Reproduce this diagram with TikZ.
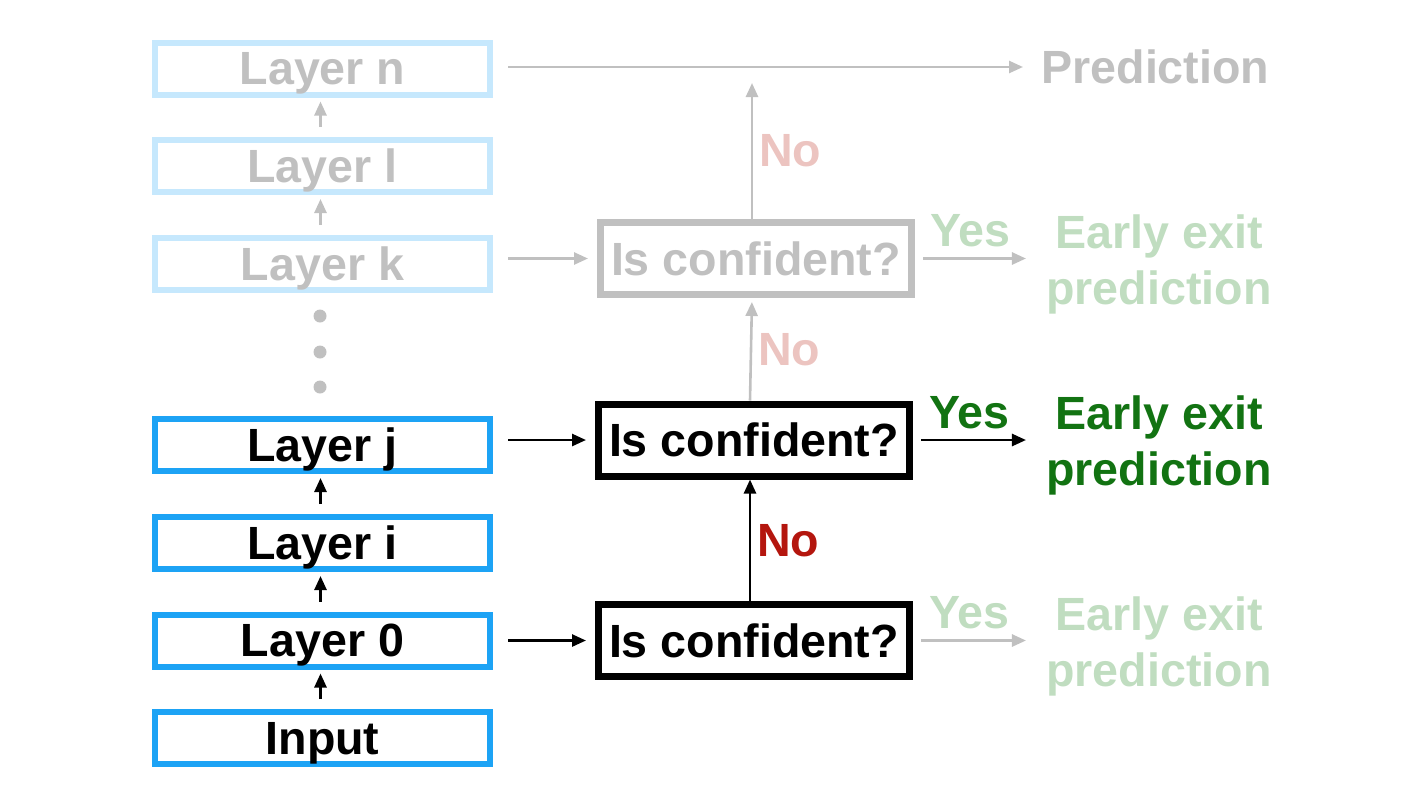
\documentclass[tikz,border=0pt]{standalone}
\usepackage{fontspec}
\setmainfont{Liberation Sans}
\usetikzlibrary{arrows.meta}
\definecolor{layerblue}{RGB}{29,163,245}
\definecolor{fadeblue}{RGB}{198,232,253}
\definecolor{fadegray}{RGB}{192,192,192}
\definecolor{exitgreen}{RGB}{18,115,18}
\definecolor{fadegreen}{RGB}{192,221,192}
\definecolor{nored}{RGB}{180,22,14}
\definecolor{fadered}{RGB}{236,196,192}
\begin{document}
\begin{tikzpicture}[x=0.5pt,y=-0.5pt,
	font=\fontsize{23.3}{28}\selectfont\bfseries,
	layer/.style={draw=layerblue,line width=3pt,minimum width=167.5pt,minimum height=26pt,inner sep=0pt,text depth=0pt},
	fadelayer/.style={layer,draw=fadeblue,text=fadegray},
	check/.style={draw,line width=3.5pt,minimum width=155.5pt,minimum height=36pt,inner sep=0pt},
	fadecheck/.style={check,draw=fadegray,text=fadegray},
	arr/.style={line width=1.3pt,-{Triangle[length=7pt,width=6pt]}},
	fadearr/.style={arr,fadegray},
	lbl/.style={inner sep=0pt}]
	\useasboundingbox (0,0) rectangle (1412,800);
	\foreach \txt/\nm/\y in {Input/in/738,Layer 0/l0/640.5,Layer i/li/543,Layer j/lj/445}
		\node[layer] (\nm) at (322.5,\y) {\txt}; % active layers
	\foreach \txt/\nm/\y in {Layer k/lk/264,Layer l/ll/166,Layer n/ln/68.5}
		\node[fadelayer] (\nm) at (322.5,\y) {\txt}; % skipped layers
	\foreach \a/\b in {in/l0,l0/li,li/lj}
		\draw[arr,shorten <=5pt,shorten >=2pt] ([xshift=-1pt]\a.north) -- ([xshift=-1pt]\b.south);
	\foreach \a/\b in {lk/ll,ll/ln}
		\draw[fadearr,shorten <=5pt,shorten >=2pt] ([xshift=-1pt]\a.north) -- ([xshift=-1pt]\b.south);
	\foreach \y in {316,352,387}
		\fill[fadegray] (320,\y) circle (3.25pt); % dots
	\node[check] (c0) at (754,640.5) {Is confident?};
	\node[check] (cj) at (754,440) {Is confident?};
	\node[fadecheck] (ck) at (756,258.5) {Is confident?};
	\node[lbl,align=center,text=fadegreen] (e0) at (1159,646) {Early exit\\prediction};
	\node[lbl,align=center,text=exitgreen] (ej) at (1159,445.5) {Early exit\\prediction};
	\node[lbl,align=center,text=fadegreen] (ek) at (1159,264) {Early exit\\prediction};
	\node[lbl,anchor=west,text=fadegray] (pred) at (1041,67) {Prediction};
	\coordinate (stop) at (752,83);
	\draw[arr] ([xshift=7.5pt]l0.east |- c0.west) -- ([xshift=-4.5pt]c0.west); % layer to check
	\draw[arr] ([xshift=7.5pt]lj.east |- cj.west) -- ([xshift=-4.5pt]cj.west);
	\draw[fadearr] ([xshift=7.5pt]lk.east |- ck.west) -- ([xshift=-4.5pt]ck.west);
	\draw[fadearr] ([xshift=7.5pt]ln.east |- pred.west) -- ([xshift=-9pt]pred.west);
	\draw[fadearr] ([xshift=4pt]c0.east) -- ([xshift=-10pt]c0.east -| e0.west) node[lbl,pos=.46,above=5pt,text=fadegreen]{Yes}; % exits
	\draw[arr] ([xshift=4pt]cj.east) -- ([xshift=-10pt]cj.east -| ej.west) node[lbl,pos=.46,above=5pt,text=exitgreen]{Yes};
	\draw[fadearr] ([xshift=4pt]ck.east) -- ([xshift=-10pt]ck.east -| ek.west) node[lbl,pos=.46,above=5pt,text=fadegreen]{Yes};
	\draw[arr] ([xshift=-2pt]c0.north) -- ([xshift=-2pt]cj.south) node[lbl,midway,right=3pt,text=nored]{No}; % not confident
	\draw[fadearr,shorten >=2pt] ([xshift=-2pt]cj.north) -- ([xshift=-2pt]ck.south) node[lbl,midway,right=3pt,text=fadered]{No};
	\draw[fadearr] ([xshift=-2pt]ck.north) -- (stop) node[lbl,midway,right=3pt,text=fadered]{No};
\end{tikzpicture}
\end{document}
